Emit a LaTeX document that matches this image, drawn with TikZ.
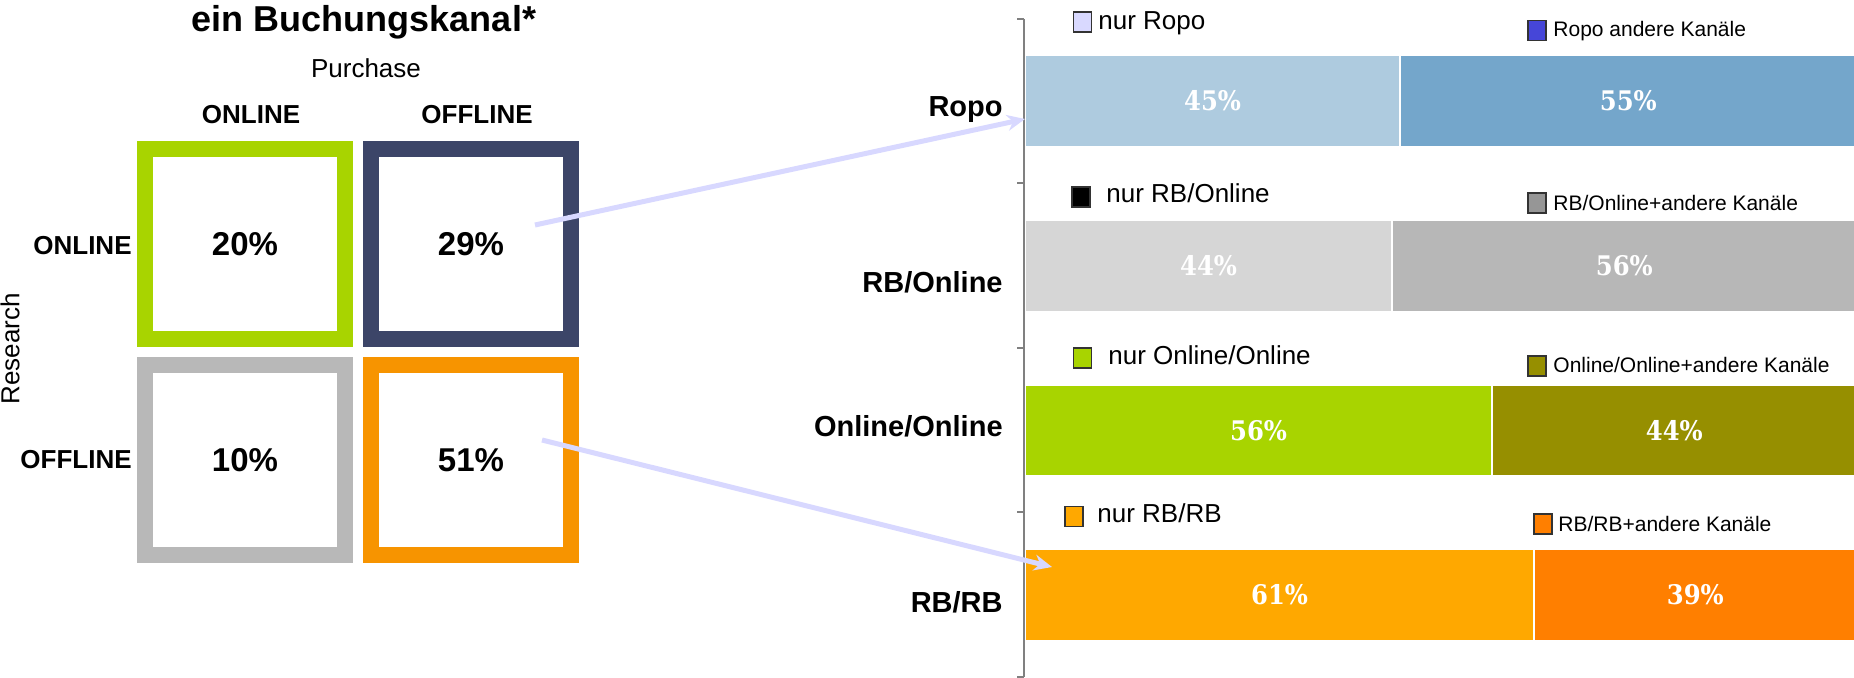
\documentclass[tikz,border=0pt]{standalone}
\usepackage{xcolor}
\usepackage{fontspec}
\setmainfont{Liberation Sans}
\newfontfamily\pctfont{DejaVu Serif}[FakeStretch=0.9]
\usepackage{tikz}
\usetikzlibrary{positioning,arrows.meta}

\definecolor{limegreen}{RGB}{168,212,0}
\definecolor{navyblue}{RGB}{60,69,104}
\definecolor{boxgray}{RGB}{184,184,184}
\definecolor{boxorange}{RGB}{247,148,0}
\definecolor{ropolight}{RGB}{174,203,223}
\definecolor{ropodark}{RGB}{116,166,203}
\definecolor{rbolight}{RGB}{214,214,214}
\definecolor{rbodark}{RGB}{183,183,183}
\definecolor{oodark}{RGB}{150,143,0}
\definecolor{rblight}{RGB}{255,168,0}
\definecolor{rbdark}{RGB}{255,127,0}
\definecolor{lavender}{RGB}{217,217,255}
\definecolor{ropoblue}{RGB}{70,70,216}
\definecolor{keygray}{RGB}{150,150,150}
\definecolor{arrowlilac}{RGB}{216,216,255}
\definecolor{axisgray}{RGB}{128,128,128}

\begin{document}
\begin{tikzpicture}[x=0.5pt, y=-0.5pt,
  every node/.style={inner sep=0pt},
  cell/.style={rectangle, draw, line width=8pt, fill=white, minimum width=100pt, minimum height=95pt, font=\fontsize{16.5}{18}\selectfont\bfseries},
  seg/.style={rectangle, draw=white, line width=0.6pt, minimum height=45.5pt, anchor=west, text=white, font=\pctfont\fontsize{13.5}{15}\selectfont\bfseries},
  key/.style={rectangle, draw=black!80, line width=0.6pt, minimum width=9pt, minimum height=10pt},
  nurtext/.style={anchor=base west, font=\fontsize{13}{15}\selectfont},
  andtext/.style={anchor=base west, font=\fontsize{10.5}{12}\selectfont},
  head/.style={anchor=base, font=\fontsize{13}{15}\selectfont\bfseries},
  rowlab/.style={anchor=base east, font=\fontsize{13}{15}\selectfont\bfseries},
  cat/.style={anchor=base east, font=\fontsize{14.5}{16}\selectfont\bfseries},
  link/.style={draw=arrowlilac, line width=2.5pt, -{Stealth[length=9pt, width=8pt]}}]
\useasboundingbox (0,0) rectangle (1854,678);

\node[anchor=base, font=\fontsize{18}{20}\selectfont\bfseries] (title) at (364,32) {ein Buchungskanal*};
\node[anchor=base, font=\fontsize{13}{15}\selectfont] (purchase) at (366,78) {Purchase};
\node[head] (colOn) at (251,124) {ONLINE};
\node[head] (colOff) at (477,124) {OFFLINE};
\node[rowlab] (rowOn) at (132,255) {ONLINE};
\node[rowlab] (rowOff) at (132,469) {OFFLINE};
\node[rotate=90, font=\fontsize{13}{15}\selectfont] (research) at (10,349) {Research};

\node[cell, draw=limegreen] (onOn) at (245,244) {20\%};
\node[cell, draw=navyblue] (onOff) at (471,244) {29\%};
\node[cell, draw=boxgray] (offOn) at (245,460) {10\%};
\node[cell, draw=boxorange] (offOff) at (471,460) {51\%};

\node[seg, fill=ropolight, minimum width=187pt] (ropoA) at (1025,101) {45\%};
\node[seg, fill=ropodark, minimum width=227.5pt, right=0pt of ropoA] (ropoB) {55\%};
\node[seg, fill=rbolight, minimum width=183pt] (rboA) at (1025,266) {44\%};
\node[seg, fill=rbodark, minimum width=231.5pt, right=0pt of rboA] (rboB) {56\%};
\node[seg, fill=limegreen, minimum width=233pt] (ooA) at (1025,430.5) {56\%};
\node[seg, fill=oodark, minimum width=181.5pt, right=0pt of ooA] (ooB) {44\%};
\node[seg, fill=rblight, minimum width=254pt] (rbA) at (1025,595) {61\%};
\node[seg, fill=rbdark, minimum width=160.5pt, right=0pt of rbA] (rbB) {39\%};

\draw[axisgray, line width=1pt] (1024,19) -- (1024,677);
\draw[axisgray, line width=1pt] (1017,19) -- (1024,19) (1017,183) -- (1024,183) (1017,348) -- (1024,348) (1017,512) -- (1024,512) (1017,677) -- (1024,677);

\node[cat] (catRopo) at (1003,117) {Ropo};
\node[cat] (catRbo) at (1003,293) {RB/Online};
\node[cat] (catOo) at (1003,437) {Online/Online};
\node[cat] (catRb) at (1003,612) {RB/RB};

\node[key, fill=lavender] (keyRopoA) at (1082.5,22) {};
\node[nurtext] (txtRopoA) at (1098,30) {nur Ropo};
\node[key, fill=ropoblue] (keyRopoB) at (1537,30.5) {};
\node[andtext] (txtRopoB) at (1553,37) {Ropo andere Kanäle};
\node[key, fill=black] (keyRboA) at (1081,197) {};
\node[nurtext] (txtRboA) at (1106,203) {nur RB/Online};
\node[key, fill=keygray] (keyRboB) at (1537,203) {};
\node[andtext] (txtRboB) at (1553,211) {RB/Online+andere Kanäle};
\node[key, fill=limegreen] (keyOoA) at (1082.5,358) {};
\node[nurtext] (txtOoA) at (1108,365) {nur Online/Online};
\node[key, fill=oodark] (keyOoB) at (1537,366) {};
\node[andtext] (txtOoB) at (1553,373) {Online/Online+andere Kanäle};
\node[key, fill=rblight] (keyRbA) at (1074,516.5) {};
\node[nurtext] (txtRbA) at (1097,523) {nur RB/RB};
\node[key, fill=rbdark] (keyRbB) at (1543,524) {};
\node[andtext] (txtRbB) at (1558,532) {RB/RB+andere Kanäle};

\coordinate (ropoFrom) at (535,225);
\coordinate (ropoTo) at (1025,119);
\coordinate (rbFrom) at (542,440);
\coordinate (rbTo) at (1052,567);
\draw[link] (ropoFrom) -- (ropoTo);
\draw[link] (rbFrom) -- (rbTo);
\end{tikzpicture}
\end{document}
